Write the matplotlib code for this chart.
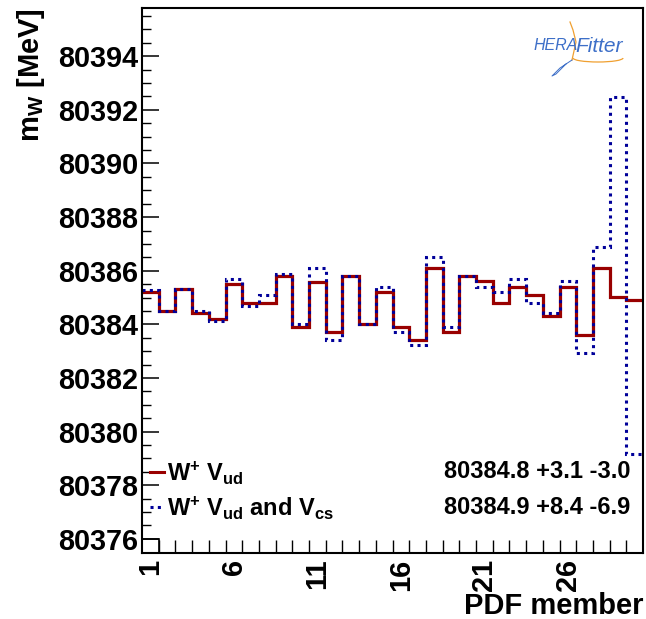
import matplotlib
matplotlib.use('Agg')
import matplotlib.pyplot as plt
import numpy as np
from matplotlib.patches import Rectangle, Arc

# m_W for each PDF member
members = np.arange(1, 31)
mw_vud = [80385.21, 80384.51, 80385.31, 80384.41, 80384.21, 80385.50, 80384.81,
          80384.81, 80385.80, 80383.91, 80385.59, 80383.71, 80385.80, 80384.01,
          80385.21, 80383.91, 80383.41, 80386.10, 80383.71, 80385.80, 80385.60,
          80384.81, 80385.40, 80385.10, 80384.31, 80385.40, 80383.61, 80386.10,
          80385.01, 80384.91]
mw_vud_vcs = [80385.29, 80384.51, 80385.31, 80384.50, 80384.11, 80385.70, 80384.69,
              80385.10, 80385.88, 80384.01, 80386.10, 80383.41, 80385.80, 80384.01,
              80385.40, 80383.71, 80383.22, 80386.50, 80383.91, 80385.80, 80385.40,
              80385.21, 80385.70, 80384.81, 80384.41, 80385.60, 80382.92, 80386.90,
              80392.49, 80379.16]
labels = [r'W$^{\mathbf{+}}$ V$_{\mathbf{ud}}$',
          r'W$^{\mathbf{+}}$ V$_{\mathbf{ud}}$ and V$_{\mathbf{cs}}$']
results = ['80384.8 +3.1 -3.0', '80384.9 +8.4 -6.9']
xlabels = [1, 6, 11, 16, 21, 26]

plt.rcParams['font.family'] = ['Liberation Sans', 'DejaVu Sans']
plt.rcParams['font.weight'] = 'bold'
plt.rcParams['mathtext.fontset'] = 'custom'
plt.rcParams['mathtext.rm'] = 'Liberation Sans:bold'
plt.rcParams['mathtext.bf'] = 'Liberation Sans:bold'
plt.rcParams['mathtext.it'] = 'Liberation Sans:bold'

W, H = 646, 619
def fx(x): return x / W
def fy(y): return 1 - y / H

red = '#990000'
blue = '#000099'

fig = plt.figure(figsize=(W / 100, H / 100), dpi=100)
ax = fig.add_axes([fx(142), fy(553), fx(643) - fx(142), fy(8) - fy(553)])

edges = np.arange(0.5, len(members) + 1)
ax.stairs(mw_vud, edges, baseline=None, color=red, lw=2.3)
ax.stairs(mw_vud_vcs, edges, baseline=None, color=blue, lw=2.2,
          linestyle=(0, (1.0, 1.4)))

ylo, yhi = 80375.47, 80395.8
ax.set_xlim(0.5, 30.5)
ax.set_ylim(ylo, yhi)

# little empty box in the corner, as in the original
ax.add_patch(Rectangle((0.5, ylo), 1, 80376 - ylo, fill=False, ec='black', lw=1.2))

ax.set_yticks(np.arange(80376, 80395, 2))
ax.set_yticks(np.arange(80376, 80395.6, 0.5), minor=True)
ax.set_yticklabels([str(v) for v in range(80376, 80395, 2)], fontsize=20.8, fontweight='bold')
ax.tick_params(axis='y', which='major', direction='in', length=12.2, width=1.1, pad=3)
ax.tick_params(axis='y', which='minor', direction='in', length=6.5, width=1.0)

ax.set_xticks(xlabels)
ax.set_xticklabels([str(v) for v in xlabels], rotation=90, fontsize=20.8,
                   fontweight='bold', va='top')
ax.set_xticks(edges[1:-1], minor=True)
ax.tick_params(axis='x', which='major', length=0, pad=4)
ax.tick_params(axis='x', which='minor', direction='in', length=9.4, width=1.0)

for s in ax.spines.values():
    s.set_linewidth(1.5)

# axis titles
fig.text(fx(643), fy(614), 'PDF member', ha='right', va='baseline',
         fontsize=21, fontweight='bold')
fig.text(fx(31), fy(8), r'm$_{\mathbf{W}}$ [MeV]', rotation=90, ha='center', va='top',
         fontsize=21, fontweight='bold')

# legend
for i, (lab, res) in enumerate(zip(labels, results)):
    yy = 472 + 35 * i
    ls = '-' if i == 0 else (0, (1.0, 1.4))
    col = red if i == 0 else blue
    fig.lines.append(plt.Line2D([fx(150), fx(164)], [fy(yy), fy(yy)], color=col,
                                lw=2.2, linestyle=ls, transform=fig.transFigure))
    fig.text(fx(167), fy(yy + 1), lab, ha='left', va='center', fontsize=17,
             fontweight='bold')
    fig.text(fx(630), fy(yy), res, ha='right', va='center', fontsize=17,
             fontweight='bold')

# HERAFitter logo
logo_col = '#3d6fc8'
orange = '#f0a030'
fig.text(fx(533), fy(50), 'HERA', fontsize=11.5, style='italic', fontweight='normal',
         color=logo_col, ha='left', va='baseline')
fig.text(fx(575), fy(52), 'Fitter', fontsize=15, style='italic', fontweight='normal',
         color=logo_col, ha='left', va='baseline')
fig.lines.append(plt.Line2D([fx(570), fx(573), fx(576), fx(572)],
                            [fy(22), fy(30), fy(42), fy(60)], color=orange, lw=0.9,
                            transform=fig.transFigure))
fig.patches.append(Arc((fx(598), fy(58)), fx(50), 8 / H, angle=0, theta1=180,
                       theta2=360, color=orange, lw=0.9, transform=fig.transFigure))
fig.lines.append(plt.Line2D([fx(572), fx(560), fx(552), fx(556), fx(566)],
                            [fy(60), fy(68), fy(76), fy(74), fy(64)], color=logo_col,
                            lw=0.7, transform=fig.transFigure))

fig.savefig('out.png', dpi=100)
